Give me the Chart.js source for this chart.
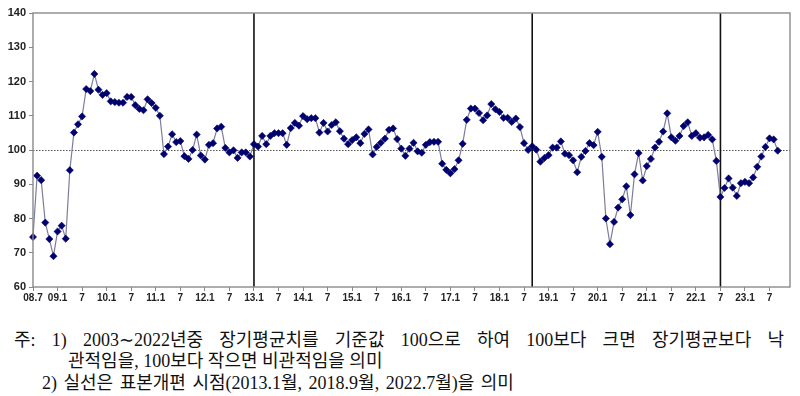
<!DOCTYPE html>
<html><head><meta charset="utf-8">
<script src="https://cdn.jsdelivr.net/npm/chart.js@4.4.1/dist/chart.umd.min.js"></script>
<style>
html,body{margin:0;padding:0;background:#fff;}
#wrap{position:relative;width:800px;height:396px;overflow:hidden;background:#fff;}
#c{position:absolute;left:0;top:0;}
.note{position:absolute;font-family:"Liberation Serif","Noto Sans CJK KR",serif;font-size:18px;color:#111;white-space:nowrap;line-height:20px;}
</style></head><body>
<div id="wrap">
<canvas id="c" width="800" height="305"></canvas>
<div class="note" id="n1" style="left:14px;top:330px;width:770px;white-space:normal;text-align:justify;text-align-last:justify;">주: 1) 2003∼2022년중 장기평균치를 기준값 100으로 하여 100보다 크면 장기평균보다 낙</div>
<div class="note" id="n2" style="left:68px;top:351px;">관적임을, 100보다 작으면 비관적임을 의미</div>
<div class="note" id="n3" style="left:42px;top:373px;word-spacing:2px;">2) 실선은 표본개편 시점(2013.1월, 2018.9월, 2022.7월)을 의미</div>
</div>
<script>
// Monthly categories: 2008.7 ... 2023.12
const startYear = 2008, startMonth = 7, endYear = 2023, endMonth = 12;
const categories = [];
for (let y = startYear, m = startMonth; y < endYear || (y === endYear && m <= endMonth); ) {
  categories.push(y + '.' + m);
  m++; if (m > 12) { m = 1; y++; }
}

// Index values (2008.7 - 2023.9)
const indexValues = [
  74.6, 92.5, 91.2, 78.8, 74.0, 69.0,
  76.2, 77.9, 74.1, 94.1, 105.1, 107.5, 109.8, 117.8, 117.2, 122.2, 117.6, 116.1,
  116.6, 114.2, 114.0, 113.8, 113.8, 115.5, 115.5, 113.1, 112.0, 111.6, 114.8, 113.7,
  112.3, 110.0, 98.8, 101.0, 104.6, 102.3, 102.6, 98.2, 97.4, 100.0, 104.5, 98.4,
  97.2, 101.5, 102.0, 106.3, 106.8, 100.6, 99.3, 99.9, 97.7, 99.3, 99.3, 98.1,
  101.7, 101.0, 104.1, 101.7, 104.1, 104.9, 104.9, 104.9, 101.5, 106.4, 107.9, 107.1,
  109.9, 109.0, 109.3, 109.3, 105.1, 107.9, 105.4, 107.3, 108.1, 105.5, 103.3, 101.7,
  102.9, 103.7, 102.0, 104.7, 106.0, 98.7, 100.9, 102.1, 103.3, 105.9, 106.3, 103.2,
  100.4, 98.3, 100.4, 102.1, 99.6, 99.2, 101.5, 102.3, 102.4, 102.4, 96.0, 94.2,
  93.2, 94.4, 97.0, 101.8, 108.8, 112.1, 112.1, 110.8, 108.7, 110.1, 113.4, 111.9,
  111.1, 109.4, 109.4, 108.2, 109.2, 106.7, 102.0, 100.0, 101.1, 100.1, 96.6, 97.7,
  98.5, 100.7, 100.7, 102.5, 98.9, 98.5, 97.0, 93.5, 98.0, 99.7, 102.0, 101.4,
  105.3, 98.0, 80.0, 72.5, 79.0, 83.2, 85.6, 89.4, 81.0, 92.9, 99.1, 91.1,
  95.3, 97.4, 100.7, 102.4, 105.4, 110.7, 103.7, 102.7, 104.1, 107.0, 108.1, 104.1,
  104.9, 103.6, 103.7, 104.4, 103.1, 96.8, 86.3, 88.9, 91.7, 89.0, 86.6, 90.3,
  90.7, 90.3, 92.0, 95.1, 98.1, 100.9, 103.4, 103.1, 99.8
];

// X tick labels (every 6 months)
const tickLabels = ['08.7','09.1','7','10.1','7','11.1','7','12.1','7','13.1','7','14.1','7',
  '15.1','7','16.1','7','17.1','7','18.1','7','19.1','7','20.1','7','21.1','7','22.1','7','23.1','7'];

// Y tick values
const yTicks = [60, 70, 80, 90, 100, 110, 120, 130, 140];

// Sample revision points
const revisionMonths = ['2013.1', '2018.9', '2022.7'];
const baseValue = 100;

const refPlugin = {
  id: 'refLines',
  beforeDatasetsDraw(chart) {
    const {ctx, chartArea: a, scales: {x, y}} = chart;
    ctx.save();
    const yb = Math.round(y.getPixelForValue(baseValue)) + 0.5;
    ctx.strokeStyle = '#555';
    ctx.lineWidth = 1;
    ctx.setLineDash([1.5, 1.5]);
    ctx.beginPath(); ctx.moveTo(a.left, yb); ctx.lineTo(a.right, yb); ctx.stroke();
    ctx.setLineDash([]);
    ctx.strokeStyle = '#111';
    ctx.lineWidth = 1.6;
    revisionMonths.forEach(mo => {
      const i = categories.indexOf(mo);
      const px = x.getPixelForValue(i);
      ctx.beginPath(); ctx.moveTo(px, a.top); ctx.lineTo(px, a.bottom); ctx.stroke();
    });
    ctx.restore();
  },
  afterDraw(chart) {
    const {ctx, chartArea: a} = chart;
    ctx.save();
    ctx.strokeStyle = '#8a8a8a';
    ctx.lineWidth = 1.4;
    ctx.strokeRect(a.left, a.top, a.right - a.left, a.bottom - a.top);
    ctx.restore();
  }
};

new Chart(document.getElementById('c'), {
  type: 'line',
  data: {
    labels: categories,
    datasets: [{
      data: indexValues,
      borderColor: '#7c7c9c',
      borderWidth: 1.2,
      pointStyle: 'rectRot',
      pointRadius: 3.6,
      pointBackgroundColor: '#00006e',
      pointBorderColor: '#00006e',
      pointBorderWidth: 0.6,
      tension: 0,
      spanGaps: false
    }]
  },
  options: {
    responsive: false,
    animation: false,
    devicePixelRatio: 1,
    layout: {padding: {top: 13, right: 10, left: 0, bottom: 0}},
    plugins: {legend: {display: false}, tooltip: {enabled: false}},
    scales: {
      x: {
        type: 'category',
        offset: false,
        border: {display: false},
        grid: {
          drawOnChartArea: false,
          drawTicks: true,
          tickLength: 4,
          color: c => (c.index % 6 === 0 ? '#888' : 'rgba(0,0,0,0)'),
          lineWidth: 1
        },
        ticks: {
          autoSkip: false,
          maxRotation: 0,
          minRotation: 0,
          padding: 1,
          color: '#222',
          font: {family: '"Liberation Sans", Arial, sans-serif', size: 10, weight: 'bold'},
          callback: (v, i) => (i % 6 === 0 && tickLabels[i / 6] !== undefined ? tickLabels[i / 6] : '')
        },
        afterFit: s => { s.height = 18; }
      },
      y: {
        min: yTicks[0],
        max: yTicks[yTicks.length - 1],
        border: {display: false},
        afterBuildTicks: s => { s.ticks = yTicks.map(v => ({value: v})); },
        grid: {drawOnChartArea: false, drawTicks: true, tickLength: 4, color: '#888'},
        ticks: {
          padding: 3,
          color: '#222',
          font: {family: '"Liberation Sans", Arial, sans-serif', size: 11, weight: 'bold'}
        },
        afterFit: s => { s.width = 33; }
      }
    }
  },
  plugins: [refPlugin]
});
</script>
</body></html>
